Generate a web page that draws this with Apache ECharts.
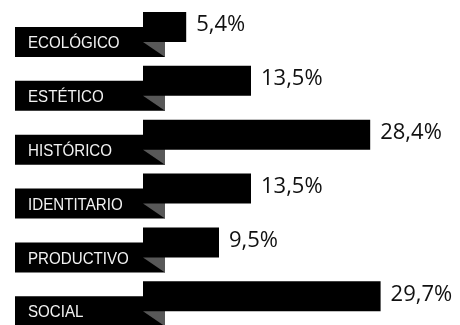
<!DOCTYPE html>
<html>
<head>
<meta charset="utf-8">
<script src="https://cdn.jsdelivr.net/npm/echarts@6/dist/echarts.min.js"></script>
<style>
  html, body { margin: 0; padding: 0; background: #fff; }
  #chart { width: 460px; height: 325px; }
</style>
</head>
<body>
<div id="chart"></div>
<script>
// Share of each value type (%)
const categories = ['ECOLÓGICO', 'ESTÉTICO', 'HISTÓRICO', 'IDENTITARIO', 'PRODUCTIVO', 'SOCIAL'];
const shares = [5.4, 13.5, 28.4, 13.5, 9.5, 29.7];

const fmt = v => String(v).replace('.', ',') + '%';

const chart = echarts.init(document.getElementById('chart'), null, { renderer: 'canvas' });

// Black tag with the category name, plus the folded corner under each bar
function renderTag(params, api) {
  const idx = api.value(0);
  const pt = api.coord([0, idx]);
  const x0 = pt[0], cy = pt[1];
  return {
    type: 'group',
    children: [
      {
        type: 'rect',
        shape: { x: x0 - 128, y: cy, width: 150, height: 30 },
        style: { fill: '#000' }
      },
      {
        type: 'polygon',
        shape: { points: [[x0, cy + 15], [x0 + 22, cy + 15], [x0 + 22, cy + 30]] },
        style: { fill: '#585858' }
      },
      {
        // condensed lettering: horizontally squeezed text
        type: 'text',
        x: x0 - 115,
        y: cy + 16.5,
        scaleX: 0.89,
        style: {
          x: 0, y: 0,
          text: categories[idx],
          fill: '#f2f2f2',
          font: '17px "Liberation Sans", Arial, sans-serif',
          verticalAlign: 'middle',
          align: 'left'
        }
      }
    ]
  };
}

chart.setOption({
  animation: false,
  grid: { left: 143, width: 240, top: -3.2, height: 326.4 },
  xAxis: { type: 'value', min: 0, max: 30, show: false },
  yAxis: { type: 'category', data: categories, inverse: true, show: false },
  series: [
    {
      type: 'bar',
      data: shares,
      barWidth: 30,
      itemStyle: { color: '#000' },
      label: {
        show: true,
        position: 'right',
        distance: 10,
        offset: [0, -2],
        formatter: p => fmt(p.value),
        color: '#111',
        fontSize: 22,
        fontFamily: '"Open Sans", "Noto Sans", sans-serif'
      }
    },
    {
      type: 'custom',
      data: categories.map((c, i) => [i]),
      encode: { y: 0 },
      renderItem: renderTag,
      z: 3
    }
  ]
});
</script>
</body>
</html>
